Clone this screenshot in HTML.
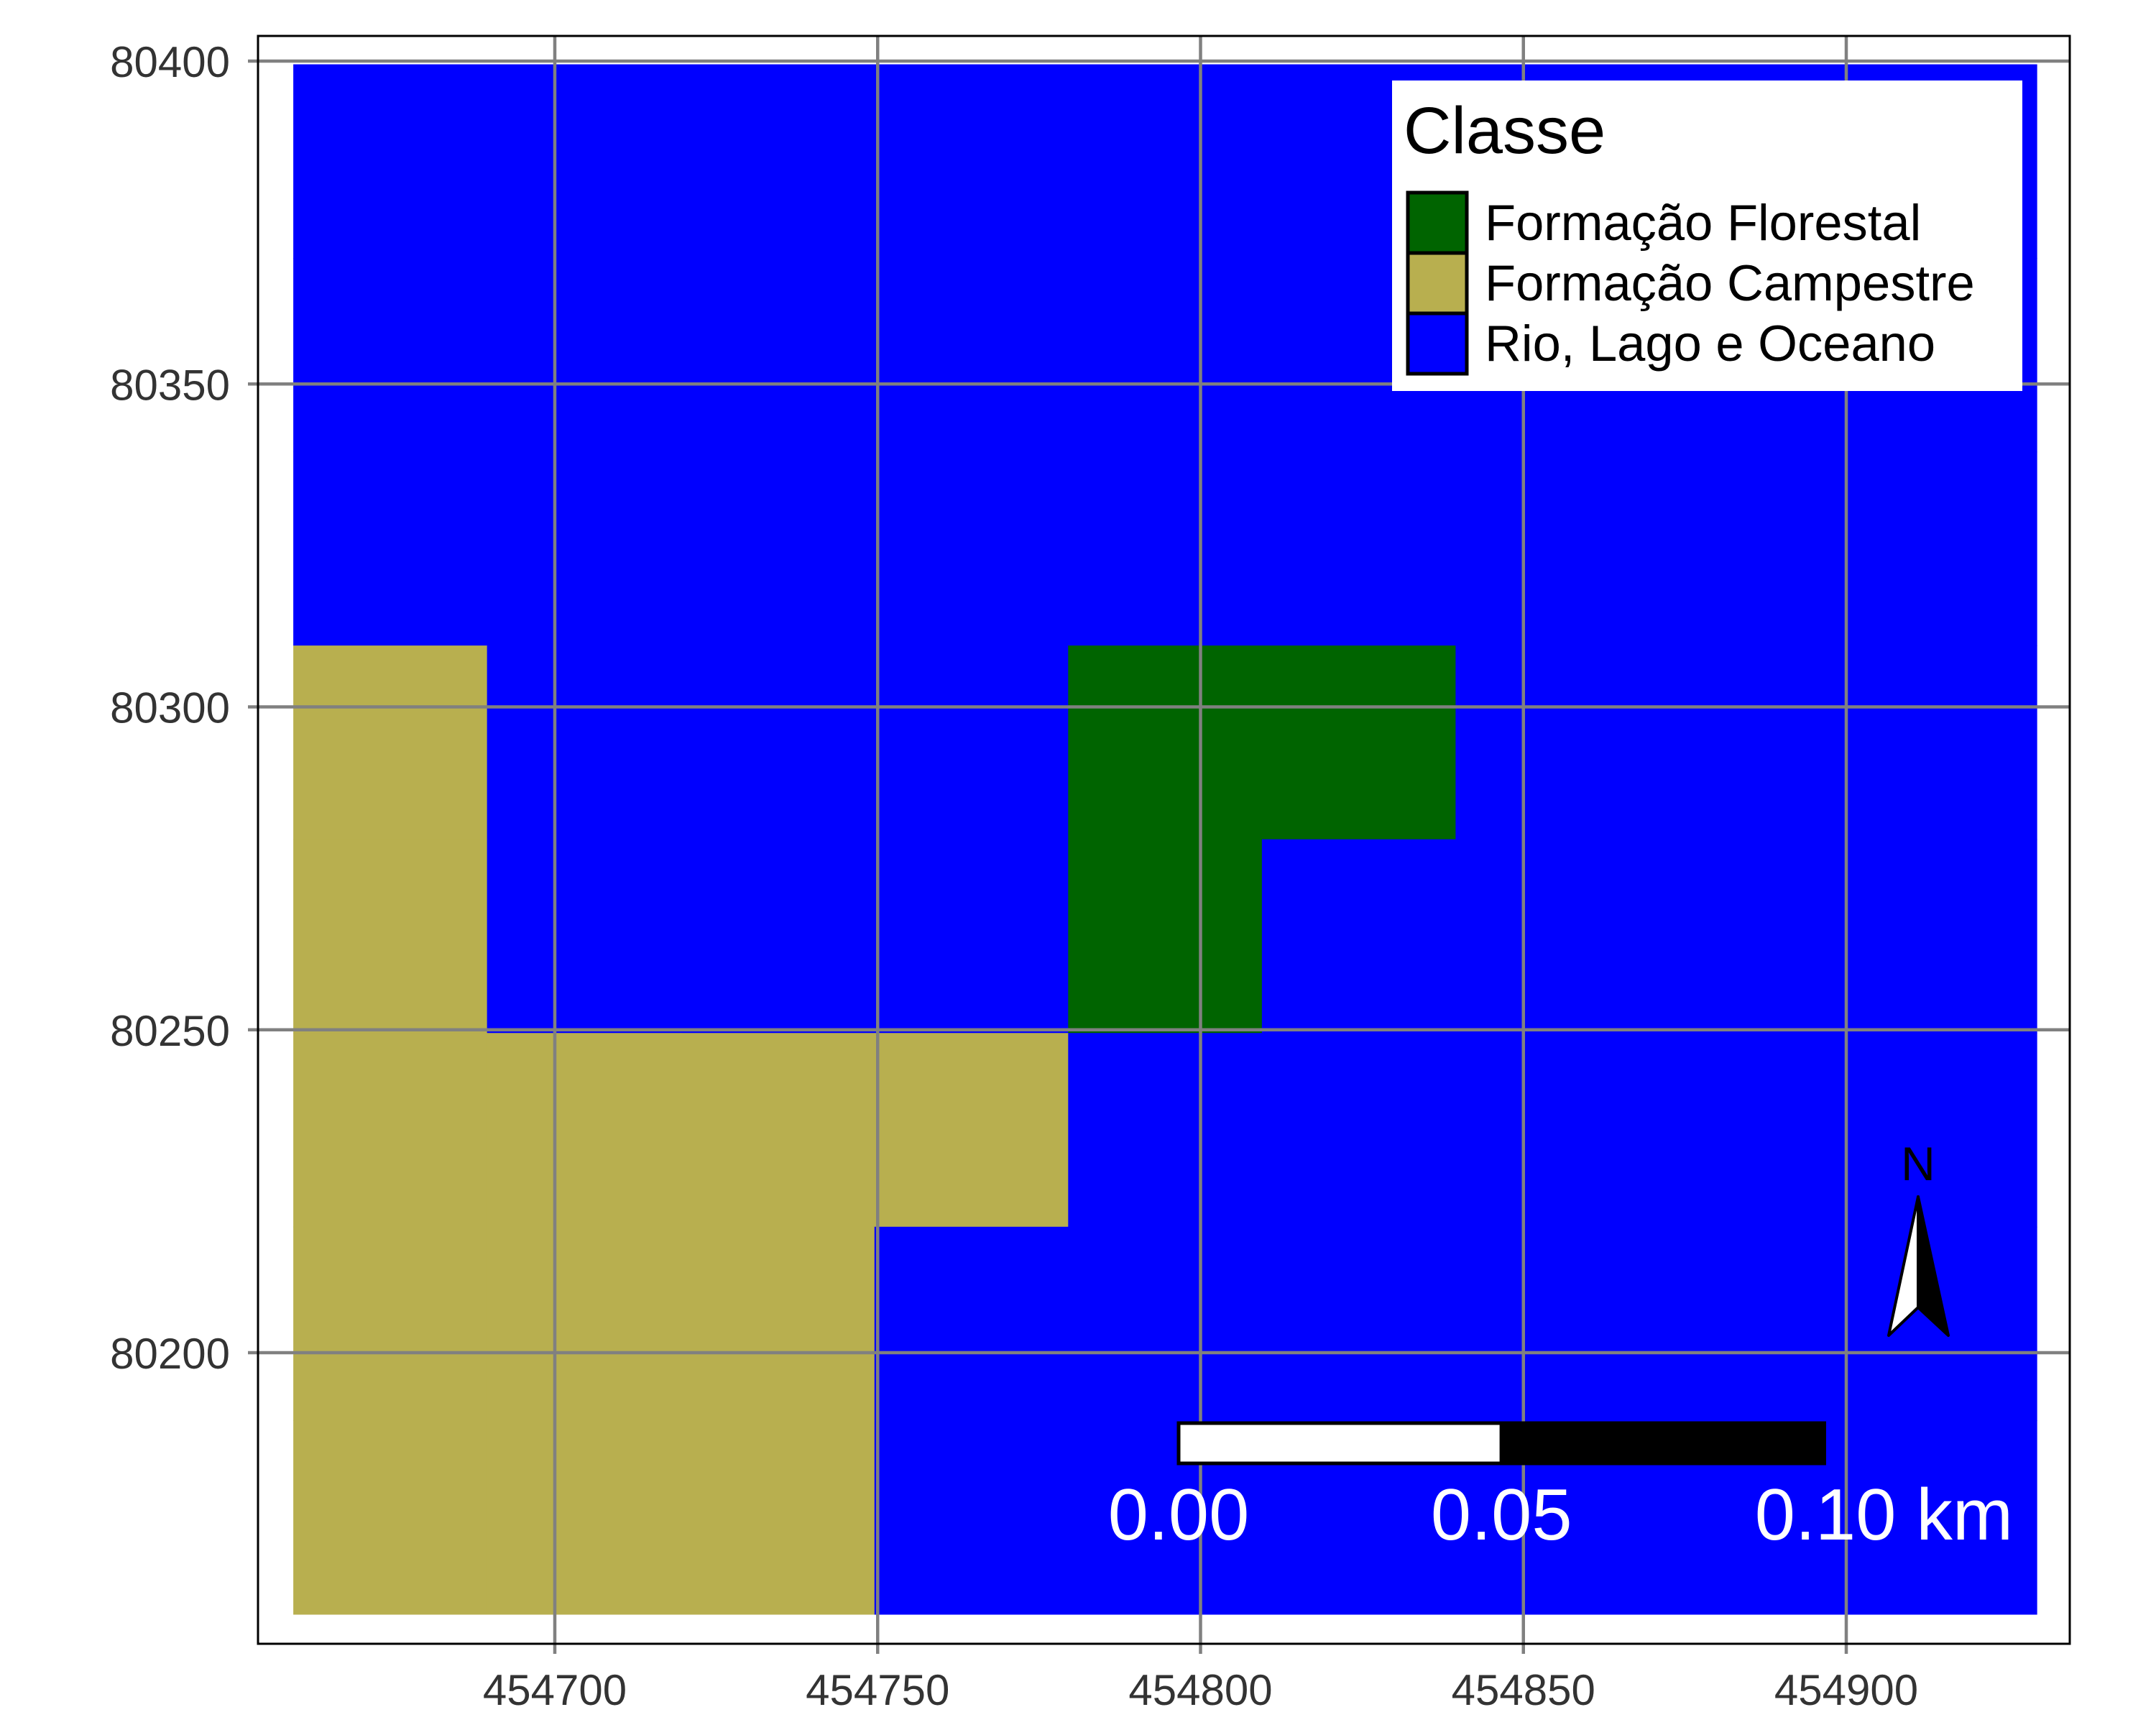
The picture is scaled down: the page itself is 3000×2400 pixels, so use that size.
<!DOCTYPE html>
<html><head><meta charset="utf-8"><style>
html,body{margin:0;padding:0;background:#fff;}
svg{display:block;font-family:"Liberation Sans",sans-serif;}
</style></head><body>
<svg id="chart" width="3000" height="2400" viewBox="0 0 3000 2400" xmlns="http://www.w3.org/2000/svg">
<rect x="0" y="0" width="3000" height="2400" fill="#fff"/>
<g id="raster"></g>
<g id="grid"></g>
<g id="axes"></g>
<g id="legend"></g>
<g id="scalebar"></g>
<g id="north"></g>
</svg>
<script>
const classNames = ["Formação Florestal", "Formação Campestre", "Rio, Lago e Oceano"];
const classColors = ["#006400", "#B8AF4F", "#0000FF"];
// 0 = florestal, 1 = campestre, 2 = água ; rows top (north) to bottom
const cellGrid = [
  [2,2,2,2,2,2,2,2,2],
  [2,2,2,2,2,2,2,2,2],
  [2,2,2,2,2,2,2,2,2],
  [1,2,2,2,0,0,2,2,2],
  [1,2,2,2,0,2,2,2,2],
  [1,1,1,1,2,2,2,2,2],
  [1,1,1,2,2,2,2,2,2],
  [1,1,1,2,2,2,2,2,2]
];
const cellSize = 30;
const originX = 454659.5;
const originYTop = 80399.5;
const xTicks = [454700, 454750, 454800, 454850, 454900];
const yTicks = [80200, 80250, 80300, 80350, 80400];
const scaleLabels = ["0.00", "0.05", "0.10 km"];
const scaleKm = [0, 0.05, 0.10];

const NS = "http://www.w3.org/2000/svg";
const PX = 8.985;
const panel = {l:359, t:50, r:2880, b:2287};
function sx(x){ return 772 + (x - 454700) * PX; }
function sy(y){ return 85 + (80400 - y) * PX; }
function mk(tag, attrs, parent){
  const e = document.createElementNS(NS, tag);
  for (const k in attrs) e.setAttribute(k, attrs[k]);
  parent.appendChild(e);
  return e;
}
const raster = document.getElementById('raster');
cellGrid.forEach((row, r) => row.forEach((c, ci) => {
  const x0 = originX + ci * cellSize, y0 = originYTop - r * cellSize;
  const e = mk('rect', {x: sx(x0), y: sy(y0), width: sx(x0 + cellSize) - sx(x0) + 0.6, height: sy(y0 - cellSize) - sy(y0) + 0.6, fill: classColors[c]}, raster);
  
  
}));
const grid = document.getElementById('grid');
const axes = document.getElementById('axes');
xTicks.forEach(v => {
  const l = mk('line', {x1: sx(v), x2: sx(v), y1: panel.t, y2: panel.b + 14, stroke: '#808080', 'stroke-width': 4.5}, grid);
  
  
  const t = mk('text', {x: sx(v), y: 2372, 'text-anchor': 'middle', 'font-size': 60, fill: '#333'}, axes);
  t.textContent = v;
  
  
});
yTicks.forEach(v => {
  const l = mk('line', {x1: panel.l - 14, x2: panel.r, y1: sy(v), y2: sy(v), stroke: '#808080', 'stroke-width': 4.5}, grid);
  
  
  const t = mk('text', {x: 320, y: sy(v) + 22, 'text-anchor': 'end', 'font-size': 60, fill: '#333'}, axes);
  t.textContent = v;
  
  
});
const border = mk('rect', {x: panel.l, y: panel.t, width: panel.r - panel.l, height: panel.b - panel.t, fill: 'none', stroke: '#000', 'stroke-width': 3}, axes);



// legend
const lg = document.getElementById('legend');
const lbg = mk('rect', {x: 1937, y: 112, width: 877, height: 432, fill: '#fff'}, lg);


const lt = mk('text', {x: 1953, y: 213, 'font-size': 92, fill: '#000'}, lg);
lt.textContent = 'Classe';


classNames.forEach((n, i) => {
  const y = 268 + i * 84;
  const k = mk('rect', {x: 1959, y: y, width: 82, height: 84, fill: classColors[i], stroke: '#000', 'stroke-width': 5}, lg);
  
  
  const t = mk('text', {x: 2066, y: y + 66, 'font-size': 70.5, fill: '#000'}, lg);
  t.textContent = n;
  
  
});

// scale bar
const sb = document.getElementById('scalebar');
const sbX0 = 1640, kmPx = 8984.5, sbY = 1980, sbH = 56;
const w1 = mk('rect', {x: sbX0, y: sbY, width: (scaleKm[1]-scaleKm[0])*kmPx, height: sbH, fill: '#fff', stroke: '#000', 'stroke-width': 5}, sb);


const b1 = mk('rect', {x: sbX0 + scaleKm[1]*kmPx, y: sbY, width: (scaleKm[2]-scaleKm[1])*kmPx, height: sbH, fill: '#000', stroke: '#000', 'stroke-width': 5}, sb);


scaleLabels.forEach((s, i) => {
  const t = mk('text', {x: sbX0 + scaleKm[i]*kmPx + (i === 2 ? 83 : 0), y: 2142, 'text-anchor': 'middle', 'font-size': 101, fill: '#fff'}, sb);
  t.textContent = s;
  
  
});

// north arrow
const na = document.getElementById('north');
const nt = mk('text', {x: 2669, y: 1642, 'text-anchor': 'middle', 'font-size': 66, fill: '#000'}, na);
nt.textContent = 'N';


const nl = mk('polygon', {points: '2669,1665 2669,1819 2628,1858', fill: '#fff', stroke: '#000', 'stroke-width': 4, 'stroke-linejoin': 'round'}, na);


const nr = mk('polygon', {points: '2669,1665 2669,1819 2711,1858', fill: '#000', stroke: '#000', 'stroke-width': 4, 'stroke-linejoin': 'round'}, na);


</script>
</body></html>
